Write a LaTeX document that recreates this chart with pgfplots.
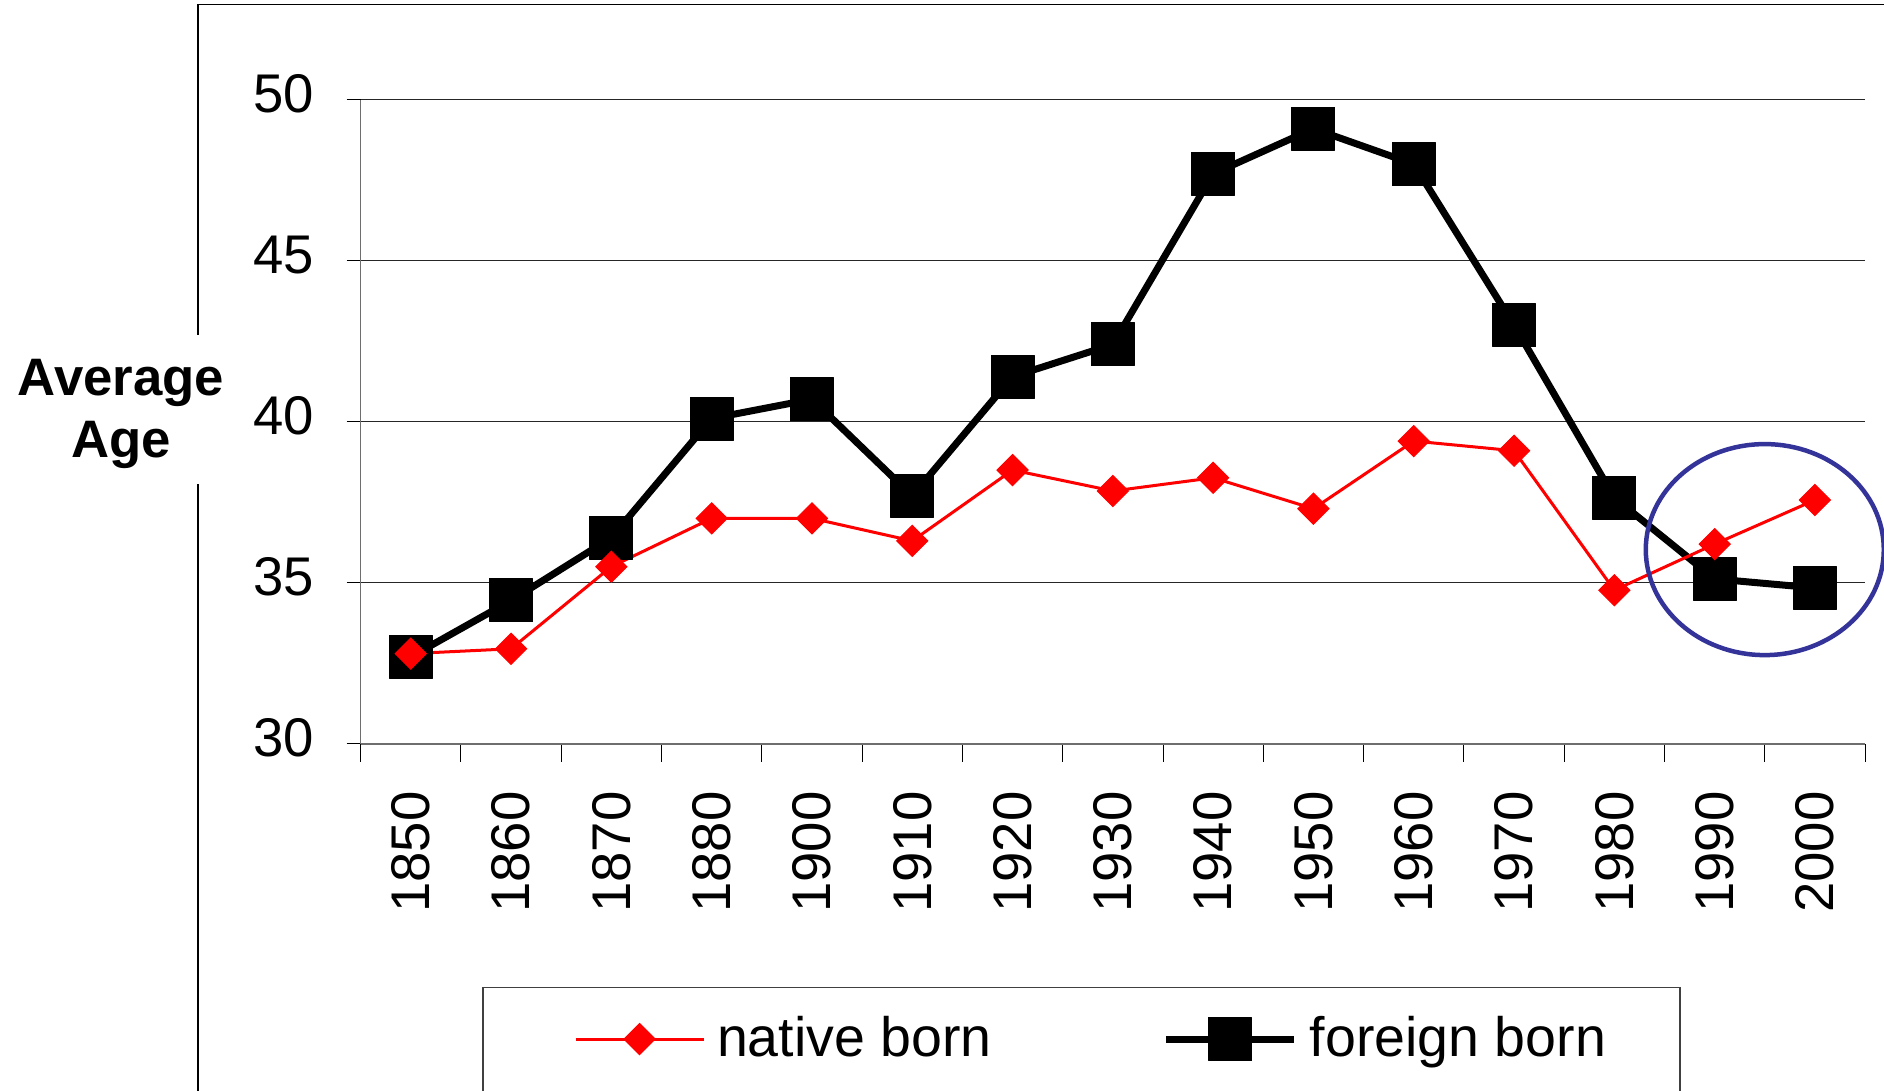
\documentclass[border=0pt]{standalone}
\usepackage{fontspec}
\setmainfont{Liberation Sans}
\usepackage{pgfplots}
\usepackage{pgfplotstable}
\pgfplotsset{compat=1.18}
\definecolor{circblue}{RGB}{51,51,153}
\definecolor{axgray}{RGB}{110,110,110}

\pgfplotstableread{
x year native foreign
0  1850 32.80 32.70
1  1860 32.95 34.45
2  1870 35.50 36.40
3  1880 37.00 40.10
4  1900 37.00 40.70
5  1910 36.30 37.70
6  1920 38.50 41.40
7  1930 37.85 42.40
8  1940 38.26 47.70
9  1950 37.30 49.10
10 1960 39.40 48.00
11 1970 39.10 43.00
12 1980 34.77 37.64
13 1990 36.20 35.12
14 2000 37.57 34.84
}\datatable

\pgfplotsset{
  nativestyle/.style={red, line width=0.3mm, mark=square*, mark size=1.1mm,
     mark options={rotate=45, solid, fill=red, draw=red, line width=0.1mm}},
  foreignstyle/.style={black, line width=0.7mm, line join=round, mark=square*, mark size=2.15mm,
     mark options={solid, fill=black, draw=black, line width=0.1mm}},
}

\begin{document}
\begin{tikzpicture}
\path[use as bounding box] (0,0) rectangle (18.84,10.91);
% outer frame pieces
\draw[black, line width=0.12mm] (1.98,0) -- (1.98,6.07);
\draw[black, line width=0.12mm] (1.98,7.56) -- (1.98,10.867) -- (18.84,10.867);
% legend frame
\draw[black!75, line width=0.12mm] (4.83,-1) -- (4.83,1.035) -- (16.80,1.035) -- (16.80,-1);
% y label
\node[font=\fontsize{15}{17.6}\selectfont\bfseries, align=center, anchor=north, inner sep=0pt]
  at (1.21,7.32) {Average\\Age};
\begin{axis}[
  at={(3.606cm,3.472cm)}, anchor=south west,
  scale only axis, width=15.045cm, height=6.441cm,
  xmin=-0.5, xmax=14.5, ymin=30, ymax=50,
  axis x line*=bottom, axis y line*=left,
  axis line style={axgray, line width=0.15mm},
  xtick={0,...,14},
  xticklabels={1850,1860,1870,1880,1900,1910,1920,1930,1940,1950,1960,1970,1980,1990,2000},
  minor xtick={-0.5,0.5,...,14.5},
  ytick={30,35,40,45,50},
  tick align=outside,
  major tick length=1.4mm, minor tick length=1.8mm,
  every major x tick/.append style={draw=none},
  tick style={black, line width=0.1mm},
  ymajorgrids, grid style={black!85, line width=0.1mm},
  /pgf/number format/assume math mode=true,
  every tick label/.append style={font=\fontsize{15.5}{18}\selectfont},
  yticklabel style={anchor=east, inner sep=0pt, xshift=-3.2mm, yshift=0.6mm},
  xticklabel style={inner sep=0pt, yshift=-3.3mm, rotate=90, anchor=east},
  clip=false,
  legend columns=2,
  legend style={at={(axis description cs:0.1414,-0.4584)}, anchor=west, draw=none, fill=none,
     inner sep=0pt, font=\fontsize{15.8}{18}\selectfont, nodes={inner sep=0pt},
     /tikz/column 1/.style={column sep=1.2mm},
     /tikz/column 2/.style={column sep=17.1mm},
     /tikz/column 3/.style={column sep=1.2mm}},
  legend image code/.code={\draw[mark repeat=2,mark phase=2,#1] plot coordinates {(0cm,0cm) (0.64cm,0cm) (1.28cm,0cm)};},
]
\addlegendimage{nativestyle}
\addlegendentry{native born}
\addlegendimage{foreignstyle}
\addlegendentry{foreign born}
\addplot[foreignstyle, forget plot] table[x=x, y=foreign]{\datatable};
\addplot[nativestyle, forget plot] table[x=x, y=native]{\datatable};
\draw[circblue, line width=0.45mm] (axis cs:13.5,36.03) ellipse [x radius=1.19cm, y radius=1.055cm];
\end{axis}
\end{tikzpicture}
\end{document}
